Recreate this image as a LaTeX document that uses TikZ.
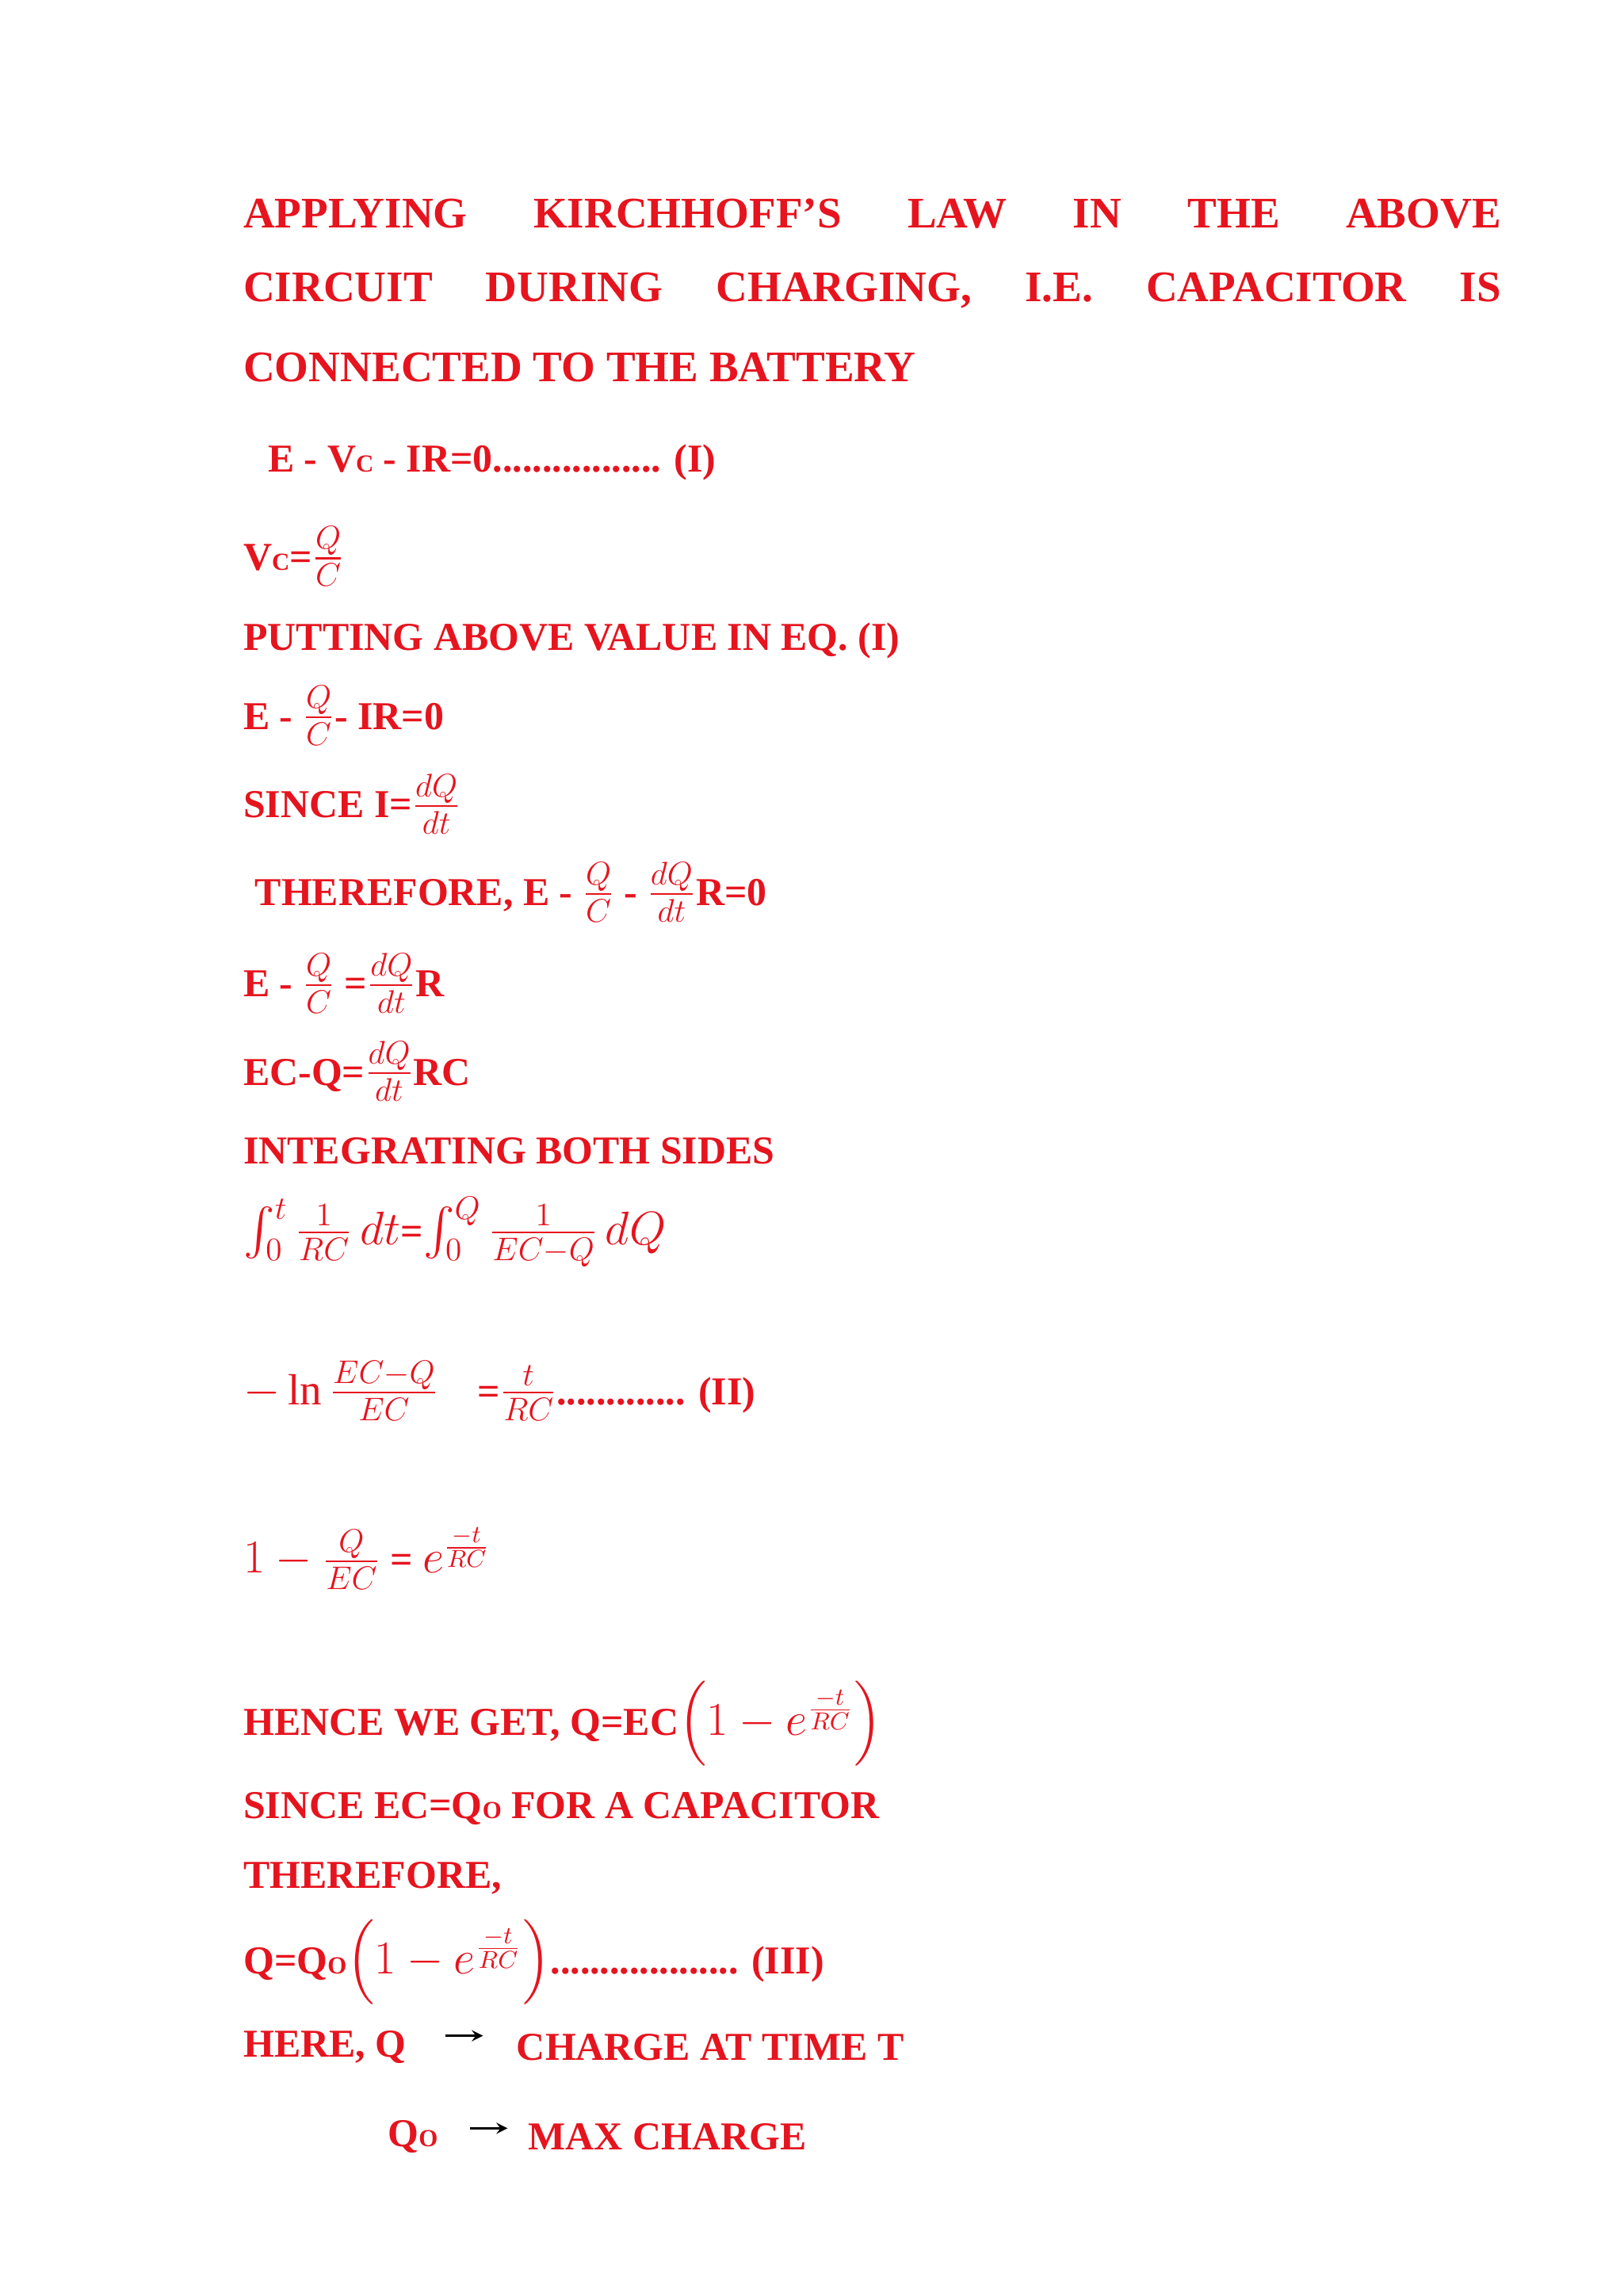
\documentclass[tikz,border=0pt]{standalone}
\usepackage{fontspec}
\setmainfont{Liberation Serif}
\usepackage{amsmath}
\DeclareMathSizes{14.5}{16}{13}{9.5}
\definecolor{txt}{RGB}{230,20,30}
\newcommand{\fr}[2]{\frac{#1}{#2}}
\begin{document}
\begin{tikzpicture}[x=0.53pt,y=-0.53pt,
  hd/.style={anchor=west,inner sep=0pt,text=txt,font=\fontsize{16}{18}\selectfont\bfseries},
  bd/.style={anchor=west,inner sep=0pt,text=txt,font=\fontsize{14.5}{17}\selectfont\bfseries},
  ar/.style={-stealth,thick,black}]
\useasboundingbox (0,0) rectangle (1123,1588);
\fill[white] (0,0) rectangle (1123,1588);
\node[hd] (h1) at (168,148) {\makebox[461pt][s]{APPLYING\hfill KIRCHHOFF'S\hfill LAW\hfill IN\hfill THE\hfill ABOVE}};
\node[hd] (h2) at (168,201) {\makebox[461pt][s]{CIRCUIT\hfill DURING\hfill CHARGING,\hfill I.E.\hfill CAPACITOR\hfill IS}};
\node[hd] (h3) at (168,254) {CONNECTED TO THE BATTERY};
\node[bd] (e1) at (185,320) {E - V{\small C} - IR=0................. (I)};
\node[bd] (e2) at (168,385) {V{\small C}=$\fr{Q}{C}$};
\node[bd] (e3) at (168,443) {PUTTING ABOVE VALUE IN EQ. (I)};
\node[bd] (e4) at (168,495) {E - $\fr{Q}{C}$- IR=0};
\node[bd] (e5) at (168,556) {SINCE I=$\fr{dQ}{dt}$};
\node[bd] (e6) at (176,617) {THEREFORE, E - $\fr{Q}{C}$ - $\fr{dQ}{dt}$R=0};
\node[bd] (e7) at (168,680) {E - $\fr{Q}{C}$ =$\fr{dQ}{dt}$R};
\node[bd] (e8) at (168,741) {EC-Q=$\fr{dQ}{dt}$RC};
\node[bd] (e9) at (168,796) {INTEGRATING BOTH SIDES};
\node[bd] (e10) at (168,852) {$\int_0^t \fr{1}{RC}\,dt$=$\int_0^Q \fr{1}{EC-Q}\,dQ$};
\node[bd] (e11) at (168,962) {$-\ln\fr{EC-Q}{EC}$\quad =$\fr{t}{RC}$............. (II)};
\node[bd] (e12) at (168,1078) {$1-\fr{Q}{EC}$ = $e^{\frac{-t}{RC}}$};
\node[bd] (e13) at (168,1192) {HENCE WE GET, Q=EC$\left(1-e^{\frac{-t}{RC}}\right)$};
\node[bd] (e14) at (168,1251) {SINCE EC=Q{\small O} FOR A CAPACITOR};
\node[bd] (e15) at (168,1299) {THEREFORE,};
\node[bd] (e16) at (168,1357) {Q=Q{\small O}$\left(1-e^{\frac{-t}{RC}}\right)$................... (III)};
\node[bd] (e17) at (168,1416) {HERE, Q};
\node[bd] (e18) at (357,1416) {CHARGE AT TIME T};
\node[bd] (e19) at (268,1478) {Q{\small O}};
\node[bd] (e20) at (365,1478) {MAX CHARGE};
\coordinate (a1) at (308,1408); \coordinate (b1) at (334,1408);
\coordinate (a2) at (325,1472); \coordinate (b2) at (351,1472);
\draw[ar] (a1) -- (b1);
\draw[ar] (a2) -- (b2);
\end{tikzpicture}
\end{document}
